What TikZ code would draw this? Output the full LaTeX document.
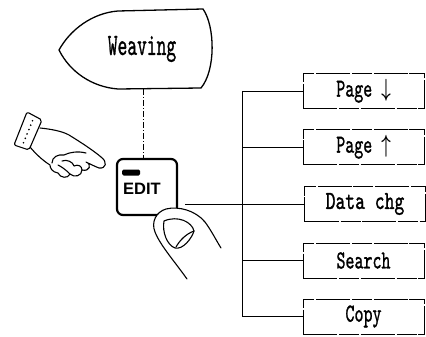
\documentclass[tikz,border=0pt]{standalone}
\usepackage{fontspec}
\setsansfont{Liberation Sans}
\newfontfamily\typewr{lmmono10-regular.otf}[FakeBold=1.3]
\usepackage{graphicx}
\usetikzlibrary{calc}
% horizontally condensed text
\newcommand\cond[2]{\scalebox{#1}[1]{#2}}
\begin{document}
\begin{tikzpicture}[x=1pt,y=-1pt,
  outline/.style={line width=1.3pt, line join=round},
  menubox/.style={draw, line width=0.9pt, dash pattern=on 34pt off 2pt on 20pt off 1.5pt,
    minimum width=121pt, minimum height=35pt, inner sep=0pt,
    font=\typewr\fontsize{26}{26}\selectfont},
  link/.style={line width=0.9pt},
  guide/.style={line width=0.8pt, dash pattern=on 6pt off 2pt on 1pt off 2pt},
  sketch/.style={line width=1.1pt, line join=round, line cap=round}]
\useasboundingbox (0,0) rectangle (426,337);

% Weaving screen shape
\draw[outline] (59,50) .. controls (70,30) and (92,13) .. (118,11) -- (203,9)
  .. controls (215,26) and (216,70) .. (201,88) -- (118,89)
  .. controls (92,87) and (70,72) .. (59,50) -- cycle;
\node[font=\typewr\fontsize{31}{31}\selectfont, inner sep=0pt] (weave) at (142,49) {\cond{0.6}{Weaving}};
\coordinate (wbot) at (143,89);

% EDIT key
\node[draw, line width=2.2pt, rounded corners=6pt, minimum width=60pt, minimum height=56pt] (key) at (147,187) {};
\fill[rounded corners=1.5pt] (122,169.5) rectangle (140,175.5);
\node[font=\sffamily\bfseries\fontsize{16.5}{16.5}\selectfont, inner sep=0pt] (keylbl) at (142,189) {EDIT};
\draw[guide] (wbot) -- (wbot |- key.north);

% menu boxes
\node[menubox] (pdn) at (363.5,91)  {\cond{0.66}{Page {\boldmath$\downarrow$}}};
\node[menubox] (pup) at (363.5,147) {\cond{0.66}{Page {\boldmath$\uparrow$}}};
\node[menubox] (dc)  at (365,204) {\cond{0.72}{Data chg}};
\node[menubox] (sr)  at (363.5,260.5) {\cond{0.66}{Search}};
\node[menubox] (cp)  at (363.5,316.5) {\cond{0.66}{Copy}};

% tree of connectors
\path (pdn.west) ++(-60.5,0) coordinate (ttop);
\draw[link] (ttop) -- (pdn.west);
\draw[link] (ttop) -- (ttop |- cp.west);
\draw[link] (ttop |- pup.west) -- (pup.west);
\draw[link] (ttop |- sr.west) -- (sr.west);
\draw[link] (ttop |- cp.west) -- (cp.west);
\path (key.east) ++(7,0) coordinate (ke);
\draw[link] (ke |- dc.west) -- (dc.west);

% finger pressing the key
\fill[white] (187,279) .. controls (175,262) and (160,245) .. (155,232)
  .. controls (151,222) and (156,212) .. (166,209)
  .. controls (178,206) and (195,210) .. (205,222)
  .. controls (211,230) and (216,240) .. (221,248) -- (200,290) -- cycle;
\draw[sketch] (187,279) .. controls (175,262) and (160,245) .. (155,232)
  .. controls (151,222) and (156,212) .. (166,209)
  .. controls (178,206) and (195,210) .. (205,222)
  .. controls (211,230) and (216,240) .. (221,248);
\draw[sketch] (164,221) .. controls (162,232) and (167,245) .. (175,248)
  .. controls (183,250) and (192,238) .. (194,231)
  .. controls (192,222) and (178,215) .. (164,221) -- cycle;
\draw[sketch] (176,247) .. controls (180,240) and (186,234) .. (194,231);

% pointing hand
\draw[sketch, rounded corners=2pt] (27,112) -- (42,120) -- (29,150) -- (14,145) -- cycle;
\foreach \t in {0.15,0.29,0.43,0.57,0.71,0.85}
  \fill ($(34.5,116)!\t!(21.5,147.5)$) circle (0.9pt);
\draw[sketch] (40,128) .. controls (50,129) and (62,131) .. (69,135)
  .. controls (82,143) and (94,151) .. (101,157)
  .. controls (108,162) and (106,169) .. (99,168)
  .. controls (94,166) and (90,164) .. (86,162)
  .. controls (92,164) and (90,172) .. (82,170)
  .. controls (82,176) and (74,178) .. (70,174)
  .. controls (68,179) and (60,178) .. (58,173)
  .. controls (52,172) and (50,168) .. (50,165)
  .. controls (42,160) and (35,153) .. (30,147);
\draw[sketch] (52,163) .. controls (52,157) and (58,154) .. (64,155)
  .. controls (70,152) and (78,151) .. (86,153);
\draw[sketch] (62,161) .. controls (67,159) and (73,162) .. (74,166)
  .. controls (78,164) and (82,166) .. (82,170);
\draw[sketch] (58,165) .. controls (62,167) and (66,170) .. (70,174);
\end{tikzpicture}
\end{document}
